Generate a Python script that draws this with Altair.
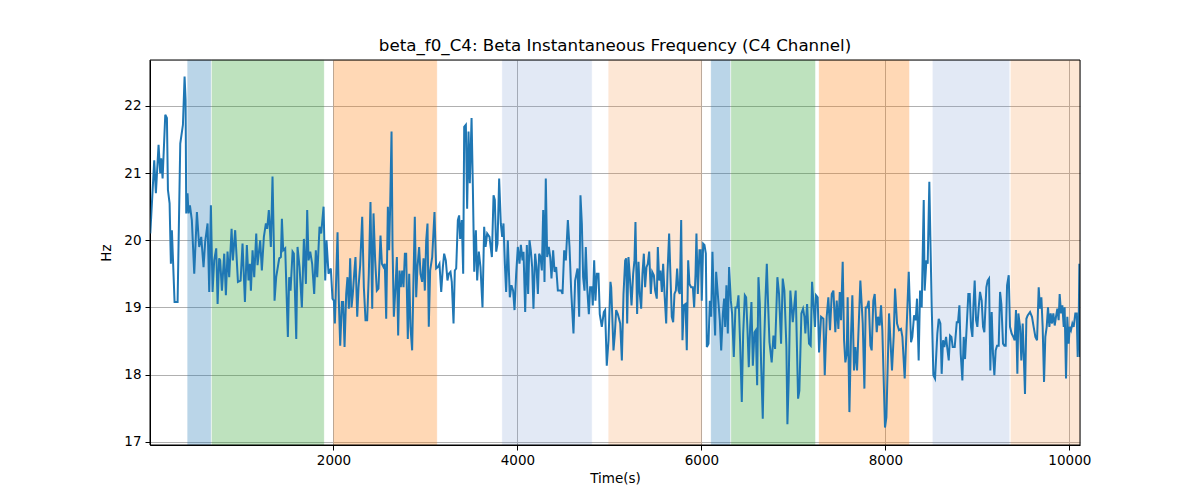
import altair as alt
import pandas as pd

# ---- signal (time in s, frequency in Hz) ----
time_s = [
    8, 51, 69, 98, 116, 127, 142, 171, 189, 200, 218, 232, 243, 272, 305, 334, 363, 381, 392, 399,
    413, 424, 439, 460, 486, 515, 540, 562, 587, 605, 631, 649, 667, 685, 703, 725, 740, 757, 768, 787,
    812, 830, 848, 866, 892, 906, 931, 961, 990, 1011, 1037, 1058, 1076, 1091, 1102, 1120, 1138, 1160, 1174, 1203,
    1221, 1243, 1265, 1279, 1297, 1319, 1337, 1352, 1359, 1377, 1410, 1428, 1439, 1453, 1475, 1504, 1518, 1533, 1555, 1569,
    1595, 1609, 1631, 1656, 1678, 1700, 1714, 1729, 1747, 1768, 1790, 1808, 1823, 1848, 1866, 1892, 1910, 1924, 1946, 1971,
    1989, 2004, 2015, 2044, 2058, 2073, 2091, 2105, 2120, 2138, 2152, 2167, 2181, 2196, 2210, 2225, 2239, 2258, 2272, 2290,
    2312, 2330, 2348, 2366, 2384, 2402, 2421, 2435, 2453, 2471, 2489, 2511, 2526, 2544, 2558, 2573, 2591, 2605, 2616, 2631,
    2642, 2656, 2674, 2689, 2703, 2718, 2732, 2747, 2761, 2776, 2790, 2808, 2823, 2837, 2855, 2870, 2884, 2899, 2913, 2931,
    2946, 2964, 2979, 2993, 3008, 3022, 3036, 3051, 3073, 3098, 3116, 3134, 3152, 3171, 3189, 3203, 3221, 3239, 3254, 3272,
    3286, 3305, 3319, 3334, 3352, 3366, 3377, 3395, 3410, 3421, 3439, 3453, 3468, 3482, 3501, 3515, 3530, 3548, 3562, 3580,
    3598, 3620, 3638, 3653, 3671, 3696, 3722, 3740, 3754, 3769, 3783, 3801, 3819, 3834, 3848, 3863, 3877, 3895, 3917, 3935,
    3953, 3968, 3986, 4004, 4022, 4037, 4055, 4066, 4084, 4102, 4116, 4131, 4145, 4160, 4174, 4192, 4207, 4222, 4236, 4251,
    4265, 4280, 4294, 4308, 4323, 4341, 4356, 4370, 4388, 4403, 4421, 4439, 4457, 4475, 4490, 4508, 4526, 4548, 4566, 4584,
    4609, 4627, 4653, 4671, 4685, 4700, 4714, 4729, 4743, 4758, 4776, 4790, 4808, 4819, 4834, 4848, 4863, 4881, 4895, 4917,
    4939, 4953, 4971, 4990, 5011, 5019, 5030, 5044, 5059, 5073, 5091, 5117, 5135, 5153, 5171, 5182, 5193, 5207, 5222, 5240,
    5258, 5272, 5283, 5301, 5316, 5330, 5345, 5359, 5374, 5388, 5403, 5417, 5432, 5450, 5465, 5483, 5497, 5515, 5526, 5541,
    5555, 5570, 5584, 5599, 5617, 5631, 5649, 5664, 5678, 5693, 5707, 5722, 5736, 5751, 5765, 5780, 5794, 5809, 5827, 5841,
    5856, 5870, 5888, 5907, 5921, 5936, 5946, 5961, 5979, 5993, 6004, 6019, 6033, 6048, 6059, 6077, 6091, 6106, 6120, 6135,
    6149, 6160, 6178, 6200, 6215, 6233, 6247, 6258, 6272, 6287, 6301, 6320, 6334, 6352, 6370, 6388, 6403, 6421, 6439, 6454,
    6472, 6486, 6501, 6515, 6530, 6544, 6559, 6577, 6591, 6606, 6620, 6635, 6649, 6667, 6682, 6696, 6711, 6725, 6740, 6764,
    6783, 6801, 6826, 6844, 6866, 6884, 6902, 6924, 6935, 6949, 6967, 6993, 7025, 7051, 7065, 7087, 7105, 7120, 7130, 7149,
    7170, 7188, 7203, 7221, 7235, 7246, 7264, 7279, 7301, 7326, 7341, 7362, 7380, 7398, 7417, 7435, 7456, 7471, 7489, 7504,
    7518, 7536, 7551, 7565, 7580, 7590, 7609, 7627, 7641, 7659, 7674, 7692, 7728, 7754, 7772, 7786, 7801, 7819, 7837, 7851,
    7869, 7884, 7906, 7920, 7938, 7953, 7967, 7996, 8011, 8040, 8072, 8091, 8105, 8127, 8148, 8170, 8185, 8210, 8254, 8279,
    8293, 8312, 8330, 8344, 8362, 8377, 8395, 8417, 8427, 8446, 8460, 8478, 8489, 8504, 8522, 8540, 8565, 8580, 8598, 8612,
    8627, 8641, 8660, 8674, 8689, 8703, 8718, 8732, 8754, 8776, 8790, 8805, 8819, 8837, 8852, 8866, 8884, 8902, 8917, 8931,
    8946, 8957, 8971, 8986, 9000, 9015, 9029, 9047, 9062, 9076, 9098, 9112, 9127, 9141, 9156, 9170, 9185, 9199, 9214, 9232,
    9247, 9261, 9279, 9294, 9308, 9323, 9341, 9355, 9373, 9391, 9406, 9420, 9435, 9446, 9464, 9478, 9493, 9504, 9518, 9533,
    9547, 9573, 9594, 9612, 9631, 9649, 9667, 9681, 9696, 9710, 9725, 9739, 9754, 9768, 9783, 9797, 9812, 9826, 9841, 9855,
    9870, 9884, 9895, 9910, 9924, 9939, 9949, 9964, 9978, 9993, 10004, 10018, 10033, 10047, 10065, 10080, 10091, 10102, 10109, 10116,
]
freq_hz = [
    20.10, 21.19, 20.70, 21.42, 21.00, 21.22, 20.92, 21.87, 21.82, 20.75, 20.55, 19.65, 20.15, 19.08, 19.08, 21.44, 21.72, 22.44, 22.09, 20.40,
    20.70, 20.40, 20.52, 20.30, 19.50, 20.42, 19.90, 20.05, 19.60, 19.98, 20.25, 19.23, 20.52, 19.23, 19.70, 19.88, 19.05, 19.73, 19.70, 19.25,
    19.80, 19.18, 19.83, 19.45, 20.17, 19.70, 20.15, 19.38, 19.40, 19.95, 19.08, 19.93, 19.40, 19.65, 19.25, 19.85, 19.45, 20.10, 19.63, 20.00,
    19.55, 20.05, 20.25, 20.17, 20.45, 19.90, 20.95, 19.90, 19.10, 19.45, 19.73, 19.75, 20.32, 19.85, 19.88, 18.56, 19.45, 19.25, 19.83, 19.80,
    18.53, 19.90, 19.60, 19.00, 20.02, 19.35, 20.45, 19.70, 19.83, 19.65, 19.20, 19.85, 19.45, 20.20, 20.10, 20.50, 19.40, 20.00, 19.50, 19.58,
    19.13, 19.10, 18.76, 20.12, 19.10, 18.43, 19.08, 19.08, 18.41, 19.20, 19.45, 18.98, 19.73, 19.00, 19.20, 19.50, 19.75, 18.86, 19.30, 19.63,
    20.35, 19.30, 18.81, 18.81, 19.50, 20.57, 18.98, 20.40, 19.70, 19.25, 19.28, 20.07, 19.65, 19.60, 19.65, 18.83, 20.50, 19.85, 20.50, 21.62,
    19.90, 18.86, 19.30, 19.75, 18.58, 19.55, 19.30, 19.55, 19.30, 19.80, 19.80, 18.53, 19.50, 18.71, 18.36, 19.45, 20.35, 19.15, 19.60, 19.90,
    19.50, 19.38, 19.73, 19.25, 20.00, 20.25, 18.71, 19.55, 19.75, 20.42, 19.58, 19.60, 19.65, 19.23, 19.60, 19.80, 19.70, 19.40, 19.50, 19.53,
    19.38, 18.76, 19.55, 19.58, 20.30, 20.37, 20.02, 20.30, 19.50, 21.69, 21.72, 20.47, 21.62, 20.85, 21.82, 20.80, 19.53, 20.15, 19.40, 19.83,
    19.60, 19.00, 20.20, 19.90, 20.10, 20.05, 19.75, 20.67, 20.60, 19.83, 19.95, 20.92, 20.25, 20.05, 20.25, 19.65, 19.23, 20.00, 19.15, 19.33,
    19.25, 18.96, 19.50, 19.90, 19.65, 19.93, 19.70, 19.83, 18.93, 19.93, 19.20, 20.00, 19.85, 19.60, 18.98, 19.80, 19.60, 19.20, 19.80, 19.75,
    19.55, 20.45, 19.38, 20.92, 19.75, 19.90, 19.75, 19.43, 19.85, 19.53, 19.60, 19.25, 19.25, 19.25, 19.20, 19.85, 19.70, 20.30, 19.90, 19.25,
    18.61, 19.40, 19.58, 18.86, 20.67, 20.25, 19.45, 19.25, 19.90, 19.30, 18.90, 19.30, 19.30, 19.03, 19.70, 19.10, 19.50, 19.50, 18.90, 18.71,
    18.93, 18.96, 18.13, 18.51, 19.38, 19.30, 18.90, 18.36, 18.61, 18.96, 18.90, 18.76, 18.21, 19.20, 19.70, 19.73, 18.76, 19.75, 19.45, 19.03,
    19.50, 19.70, 20.27, 18.90, 19.68, 19.20, 18.98, 19.50, 19.80, 19.30, 19.60, 19.65, 19.83, 19.20, 19.53, 19.48, 19.25, 19.13, 19.90, 19.40,
    19.55, 19.23, 19.65, 19.20, 18.76, 19.50, 20.10, 19.45, 18.86, 18.78, 19.20, 19.25, 19.58, 19.25, 19.20, 20.30, 18.51, 19.03, 19.05, 18.36,
    19.70, 19.35, 19.30, 19.30, 19.00, 19.50, 20.10, 19.20, 19.85, 19.85, 19.10, 19.95, 19.93, 19.80, 18.41, 18.46, 19.10, 18.86, 19.83, 19.10,
    18.58, 19.53, 19.20, 18.81, 18.36, 18.90, 19.13, 18.71, 19.33, 18.61, 19.60, 19.10, 18.90, 18.26, 19.00, 19.00, 19.18, 18.46, 17.59, 18.61,
    19.18, 19.15, 18.66, 18.11, 18.71, 19.08, 18.13, 18.63, 18.66, 17.84, 19.45, 19.05, 18.16, 17.34, 18.46, 19.10, 19.65, 19.05, 18.48, 18.18,
    18.58, 18.38, 19.45, 19.20, 18.46, 19.43, 19.25, 18.41, 17.26, 17.91, 19.25, 18.78, 19.25, 17.64, 17.76, 18.91, 18.98, 18.86, 18.61, 19.05,
    18.46, 18.43, 19.38, 19.00, 18.71, 19.18, 19.15, 18.33, 18.86, 18.83, 17.99, 18.86, 19.15, 18.66, 19.20, 19.25, 18.63, 19.10, 18.68, 19.23,
    18.81, 19.68, 18.51, 18.18, 18.31, 19.15, 17.44, 18.61, 19.18, 18.06, 18.41, 18.06, 19.40, 18.76, 17.79, 19.00, 19.00, 19.10, 18.43, 18.36,
    19.10, 19.20, 18.63, 18.86, 18.73, 19.03, 18.66, 17.21, 17.36, 18.91, 18.06, 18.58, 19.28, 18.76, 18.66, 18.68, 18.56, 17.94, 19.53, 18.48,
    18.56, 18.88, 18.81, 19.13, 18.21, 19.25, 19.00, 20.60, 19.25, 19.70, 19.65, 20.87, 20.05, 19.00, 17.99, 17.94, 18.61, 18.83, 18.76, 18.01,
    18.51, 18.41, 18.56, 18.38, 18.21, 18.58, 18.56, 18.41, 18.41, 18.78, 18.78, 19.03, 18.31, 17.91, 18.56, 18.23, 18.71, 19.20, 19.20, 18.71,
    18.56, 19.00, 19.40, 18.81, 18.71, 19.00, 19.23, 19.10, 18.71, 18.63, 19.30, 19.40, 19.43, 18.06, 18.93, 18.31, 17.99, 18.36, 18.43, 18.43,
    19.23, 19.05, 18.46, 18.43, 18.43, 19.33, 19.48, 18.71, 18.61, 18.56, 18.51, 18.96, 18.01, 18.91, 18.71, 18.21, 18.76, 18.31, 17.71, 18.83,
    18.88, 18.93, 18.86, 18.71, 18.56, 18.51, 19.30, 18.98, 19.15, 18.71, 17.89, 18.56, 18.71, 19.00, 18.71, 18.91, 18.76, 18.91, 18.73, 18.86,
    18.98, 18.81, 19.20, 18.91, 19.03, 18.71, 19.00, 17.94, 18.86, 18.46, 18.71, 18.66, 18.76, 18.71, 18.91, 18.91, 18.26, 18.76, 19.65, 18.26,
]

# ---- shaded stages ----
span_start = [413, 678, 2001, 3834, 4990, 6105, 6323, 7279, 8515, 9363]
span_end = [667, 1896, 3124, 4808, 6004, 6312, 7236, 8258, 9348, 10116]
span_color = ["#1f77b4", "#2ca02c", "#ff7f0e", "#7396d2", "#fa8c32",
              "#1f77b4", "#2ca02c", "#ff7f0e", "#7396d2", "#fa8c32"]
span_alpha = [0.3, 0.3, 0.3, 0.2, 0.2, 0.3, 0.3, 0.3, 0.2, 0.2]

x_ticks = [2000, 4000, 6000, 8000, 10000]
y_ticks = [17, 18, 19, 20, 21, 22]

sig = pd.DataFrame({"t": time_s, "f": freq_hz})
spans = pd.DataFrame({"x0": span_start, "x1": span_end, "c": span_color, "a": span_alpha})
frame_df = pd.DataFrame({"k": [0]})

FONT = "DejaVu Sans"
xscale = alt.Scale(domain=[5, 10116], nice=False, zero=False)
yscale = alt.Scale(domain=[16.95, 22.685], nice=False, zero=False)

xaxis = alt.Axis(values=x_ticks, title="Time(s)", grid=True, gridColor="#b0b0b0", gridWidth=1,
                 domainColor="black", tickColor="black", tickSize=5, labelPadding=3,
                 labelFont=FONT, labelFontSize=13.5, labelColor="black",
                 titleFont=FONT, titleFontSize=13.5, titleFontWeight="normal", titleColor="black",
                 titlePadding=5, format="d")
yaxis = alt.Axis(values=y_ticks, title="Hz", grid=True, gridColor="#b0b0b0", gridWidth=1,
                 domainColor="black", tickColor="black", tickSize=5, labelPadding=4,
                 labelFont=FONT, labelFontSize=13.5, labelColor="black",
                 titleFont=FONT, titleFontSize=13.5, titleFontWeight="normal", titleColor="black",
                 titlePadding=10, format="d")

rects = alt.Chart(spans).mark_rect(strokeWidth=1).encode(
    x=alt.X("x0:Q", scale=xscale, axis=xaxis),
    x2="x1:Q",
    y=alt.value(0),
    y2=alt.value(385),
    color=alt.Color("c:N", scale=None),
    stroke=alt.Color("c:N", scale=None),
    opacity=alt.Opacity("a:Q", scale=None),
    strokeOpacity=alt.StrokeOpacity("a:Q", scale=None),
)

line = alt.Chart(sig).mark_line(color="#1f77b4", strokeWidth=2, clip=True).encode(
    x=alt.X("t:Q", scale=xscale, axis=xaxis),
    y=alt.Y("f:Q", scale=yscale, axis=yaxis),
)

frame = alt.Chart(frame_df).mark_rect(fill=None, fillOpacity=0, stroke="black", strokeWidth=1).encode(
    x=alt.value(0), x2=alt.value(930), y=alt.value(0), y2=alt.value(385),
)

chart = alt.layer(rects, line, frame).properties(
    width=930,
    height=385,
    autosize=alt.AutoSizeParams(type="none"),
    padding={"left": 142, "top": 52, "right": 112, "bottom": 47},
    title=alt.TitleParams("beta_f0_C4: Beta Instantaneous Frequency (C4 Channel)",
                          font=FONT, fontSize=16.7, fontWeight="normal", color="black",
                          anchor="middle", offset=5),
).configure_view(stroke="black", strokeWidth=1).configure(background="white")

chart.save("out.html", embed_options={"renderer": "svg", "actions": False})
